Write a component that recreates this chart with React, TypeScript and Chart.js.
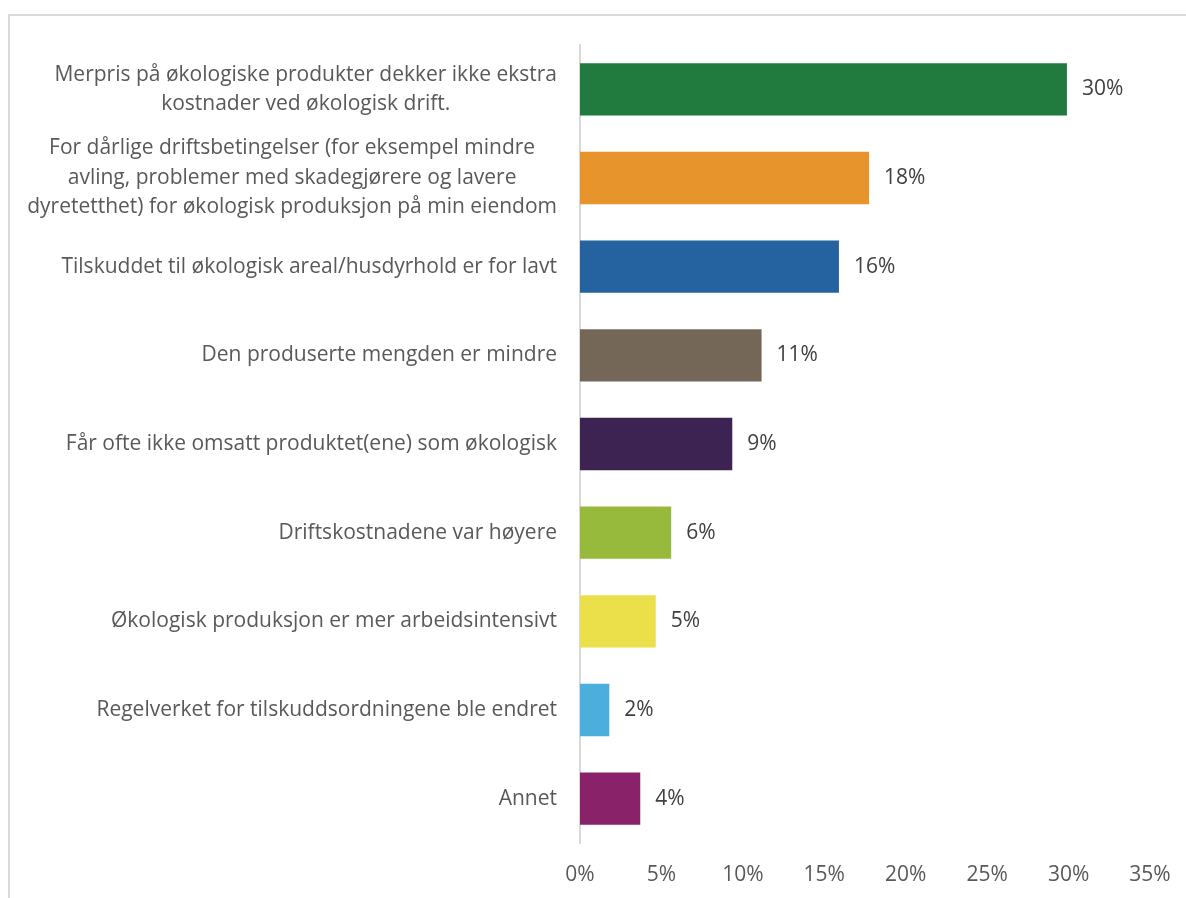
import React, { useEffect, useRef } from "react";
import { Chart, registerables } from "chart.js";

Chart.register(...registerables);

const categories: string[][] = [
  ["Merpris på økologiske produkter dekker ikke ekstra", "kostnader ved økologisk drift."],
  [
    "For dårlige driftsbetingelser (for eksempel mindre",
    "avling, problemer med skadegjørere og lavere",
    "dyretetthet) for økologisk produksjon på min eiendom",
  ],
  ["Tilskuddet til økologisk areal/husdyrhold er for lavt"],
  ["Den produserte mengden er mindre"],
  ["Får ofte ikke omsatt produktet(ene) som økologisk"],
  ["Driftskostnadene var høyere"],
  ["Økologisk produksjon er mer arbeidsintensivt"],
  ["Regelverket for tilskuddsordningene ble endret"],
  ["Annet"],
];

const values: number[] = [29.9, 17.75, 15.9, 11.15, 9.35, 5.6, 4.65, 1.8, 3.7];
const valueLabels: string[] = ["30%", "18%", "16%", "11%", "9%", "6%", "5%", "2%", "4%"];
const barColors: string[] = [
  "#217B3F",
  "#E8942C",
  "#2563A0",
  "#756758",
  "#3C2352",
  "#97BA3D",
  "#EBE04A",
  "#4BAEDD",
  "#8A226A",
];
const xMin = 0;
const xMax = 35;
const xStep = 5;

const FONT = "'Open Sans', sans-serif";
const FONT_SIZE = 21;

const labelsPlugin = {
  id: "customLabels",
  afterDraw(chart: any) {
    const ctx = chart.ctx;
    const yScale = chart.scales.y;
    const area = chart.chartArea;
    ctx.save();
    ctx.font = `${FONT_SIZE}px ${FONT}`;
    // category labels
    ctx.fillStyle = "#595959";
    ctx.textAlign = "center";
    ctx.textBaseline = "middle";
    const rightEdge = area.left - 23;
    const lh = 29.5;
    categories.forEach((lines, i) => {
      const y = yScale.getPixelForValue(i);
      const maxW = Math.max(...lines.map((l) => ctx.measureText(l).width));
      const cx = rightEdge - maxW / 2;
      lines.forEach((line, j) => {
        ctx.fillText(line, cx, y + (j - (lines.length - 1) / 2) * lh);
      });
    });
    // value labels
    ctx.fillStyle = "#404040";
    ctx.textAlign = "left";
    const meta = chart.getDatasetMeta(0);
    meta.data.forEach((bar: any, i: number) => {
      ctx.fillText(valueLabels[i], bar.x + 15, bar.y);
    });
    ctx.restore();
  },
};

export default function App() {
  const ref = useRef<HTMLCanvasElement | null>(null);
  useEffect(() => {
    if (!ref.current) return;
    const chart = new Chart(ref.current, {
      type: "bar",
      data: {
        labels: categories.map((c) => c.join(" ")),
        datasets: [
          {
            data: values,
            backgroundColor: barColors,
            borderWidth: 0,
            barPercentage: 0.59,
            categoryPercentage: 1,
          },
        ],
      },
      options: {
        indexAxis: "y",
        responsive: false,
        animation: false,
        layout: { padding: { top: 29, right: 36, bottom: 0, left: 0 } },
        plugins: {
          legend: { display: false },
          tooltip: { enabled: false },
        },
        scales: {
          x: {
            min: xMin,
            max: xMax,
            ticks: {
              stepSize: xStep,
              callback: (v: any) => `${v}%`,
              color: "#595959",
              font: { family: FONT, size: FONT_SIZE },
              padding: 11,
              maxRotation: 0,
            },
            grid: { display: false },
            border: { display: false },
            afterFit: (s: any) => {
              s.height = 55;
            },
          },
          y: {
            ticks: { display: false },
            grid: { display: false },
            border: { display: true, color: "#D9D9D9", width: 2 },
            afterFit: (s: any) => {
              s.width = 570;
            },
          },
        },
      },
      plugins: [labelsPlugin],
    });
    return () => chart.destroy();
  }, []);

  return (
    <div
      style={{
        position: "fixed",
        left: 8,
        top: 14,
        width: 1178,
        height: 884,
        boxSizing: "border-box",
        borderTop: "2px solid #D9D9D9",
        borderLeft: "2px solid #D9D9D9",
        background: "#fff",
      }}
    >
      <canvas ref={ref} width={1176} height={882} style={{ display: "block" }} />
    </div>
  );
}
